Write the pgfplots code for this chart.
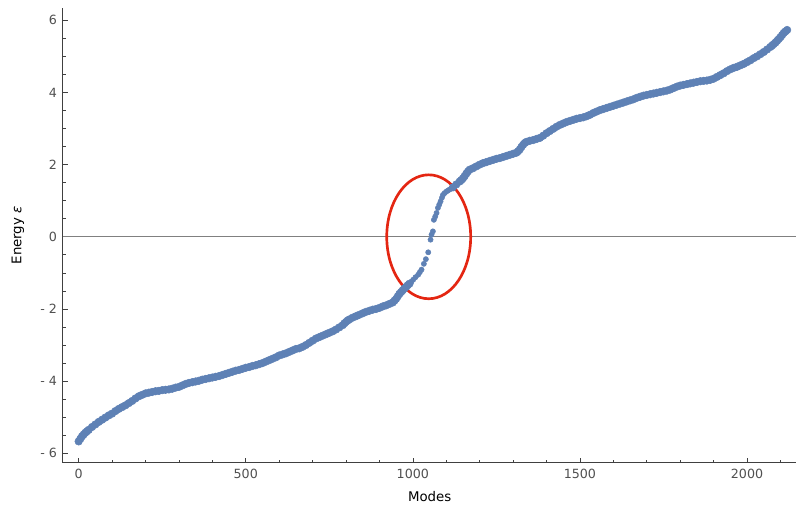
\documentclass[border=0pt]{standalone}
\usepackage{pgfplots}
\pgfplotsset{compat=1.18}
\usepackage{fontspec}
\setmainfont{DejaVu Sans}
\definecolor{mblue}{HTML}{5E81B5}
\definecolor{mred}{RGB}{228,38,18}
\definecolor{labgray}{HTML}{505050}
\definecolor{axgray}{HTML}{404040}
\begin{document}
\begin{tikzpicture}
\begin{axis}[
  scale only axis,
  width=550.5pt, height=341.25pt,
  xmin=-47, xmax=2148, ymin=-6.26, ymax=6.34,
  axis lines*=left,
  axis line style={axgray, line width=0.8pt, -},
  tick align=inside,
  major tick length=3.75pt, minor tick length=2.2pt,
  tick style={axgray, line width=0.5pt},
  xtick={0,500,1000,1500,2000},
  xticklabels={0,500,1000,1500,2000},
  minor xtick={100,200,300,400,600,700,800,900,1100,1200,1300,1400,1600,1700,1800,1900,2100},
  ytick={-6,-4,-2,0,2,4,6},
  yticklabels={- 6,- 4,- 2,0,2,4,6},
  minor ytick={-5.5,-5,-4.5,-3.5,-3,-2.5,-1.5,-1,-0.5,0.5,1,1.5,2.5,3,3.5,4.5,5,5.5},
  ticklabel style={font=\fontsize{9.5}{11}\selectfont, text=labgray},
  xticklabel style={yshift=-1pt},
  yticklabel style={xshift=-1pt},
  xlabel={Modes},
  ylabel={Energy {\itshape ε}},
  label style={font=\fontsize{9.5}{11}\selectfont, text=axgray},
  every axis x label/.style={at={(axis description cs:0.5,-0.0747)}, anchor=center},
  every axis y label/.style={at={(axis description cs:-0.0613,0.5)}, rotate=90, anchor=center},
  clip=false,
]
\draw[gray, line width=0.6pt] ({rel axis cs:0,0}|-{axis cs:0,0}) -- ({rel axis cs:1,0}|-{axis cs:0,0});
% dense part of the spectrum
\addplot[only marks, mark=*, mark size=2.85pt, mblue, mark options={draw=mblue, fill=mblue}] coordinates {
(0,-5.67) (5,-5.60) (10,-5.53) (15,-5.48) (20,-5.43) (25,-5.39) (30,-5.35) (40,-5.27) (50,-5.20) (60,-5.13) (70,-5.07) (80,-5.01) (90,-4.95)
(100,-4.90) (110,-4.83) (120,-4.77) (130,-4.72) (140,-4.67) (150,-4.61) (160,-4.55) (170,-4.48) (180,-4.42) (190,-4.38)
(200,-4.34) (210,-4.32) (220,-4.30) (230,-4.28) (240,-4.27) (250,-4.25) (260,-4.24) (270,-4.23) (280,-4.21) (290,-4.18)
(300,-4.16) (310,-4.12) (320,-4.08) (330,-4.05) (340,-4.03) (350,-4.01) (360,-3.99) (370,-3.96) (380,-3.94) (390,-3.92)
(400,-3.90) (410,-3.88) (420,-3.86) (430,-3.83) (440,-3.80) (450,-3.77) (460,-3.74) (470,-3.71) (480,-3.69) (490,-3.66)
(500,-3.63) (510,-3.61) (520,-3.58) (530,-3.56) (540,-3.53) (550,-3.50) (560,-3.46) (570,-3.42) (580,-3.38) (590,-3.34)
(600,-3.29) (610,-3.26) (620,-3.23) (630,-3.19) (640,-3.15) (650,-3.11) (660,-3.09) (670,-3.05) (680,-3.00) (690,-2.94)
(700,-2.88) (710,-2.82) (720,-2.78) (730,-2.74) (740,-2.70) (750,-2.66) (760,-2.62) (770,-2.57) (780,-2.51) (790,-2.45)
(795,-2.40) (800,-2.36) (805,-2.32) (810,-2.29) (820,-2.24) (830,-2.20) (840,-2.16) (850,-2.12) (860,-2.08) (870,-2.05) (880,-2.02) (890,-2.00)
(900,-1.97) (910,-1.93) (920,-1.90) (930,-1.86) (940,-1.82) (945,-1.77) (950,-1.72) (955,-1.65) (960,-1.58) (965,-1.53) (970,-1.48) (975,-1.43) (980,-1.39) (985,-1.34) (990,-1.30)
(1120,1.37) (1130,1.45) (1140,1.53) (1145,1.57) (1150,1.62) (1155,1.68) (1160,1.75) (1165,1.81) (1170,1.86) (1180,1.90)
(1190,1.95) (1200,2.00) (1210,2.04) (1220,2.07) (1230,2.10) (1240,2.13) (1250,2.16) (1260,2.18) (1270,2.21) (1280,2.24)
(1290,2.27) (1300,2.30) (1310,2.33) (1315,2.37) (1320,2.42) (1325,2.49) (1330,2.55) (1335,2.60) (1340,2.63) (1350,2.66) (1360,2.68) (1370,2.71) (1380,2.74)
(1390,2.80) (1400,2.87) (1410,2.93) (1420,2.99) (1430,3.05) (1440,3.10) (1450,3.14) (1460,3.18) (1470,3.21) (1480,3.24)
(1490,3.27) (1500,3.29) (1510,3.31) (1520,3.34) (1530,3.38) (1540,3.43) (1550,3.47) (1560,3.51) (1570,3.54) (1580,3.57)
(1590,3.60) (1600,3.63) (1610,3.66) (1620,3.69) (1630,3.72) (1640,3.75) (1650,3.78) (1660,3.81) (1670,3.85) (1680,3.88)
(1690,3.91) (1700,3.93) (1710,3.95) (1720,3.97) (1730,3.99) (1740,4.01) (1750,4.03) (1760,4.05) (1770,4.08) (1780,4.12)
(1790,4.16) (1800,4.19) (1810,4.21) (1820,4.23) (1830,4.25) (1840,4.27) (1850,4.29) (1860,4.31) (1870,4.32) (1880,4.33)
(1890,4.35) (1900,4.38) (1910,4.43) (1920,4.48) (1930,4.53) (1940,4.59) (1950,4.64) (1960,4.68) (1970,4.71) (1980,4.75)
(1990,4.79) (2000,4.84) (2010,4.89) (2020,4.95) (2030,5.00) (2040,5.06) (2050,5.12) (2060,5.19) (2070,5.26) (2075,5.30) (2080,5.34)
(2085,5.38) (2090,5.43) (2095,5.48) (2100,5.53) (2105,5.59) (2110,5.65) (2115,5.69) (2120,5.73)
};
% sparse points crossing the gap
\addplot[only marks, mark=*, mark size=1.95pt, mblue, mark options={draw=mblue, fill=mblue}] coordinates {
(995,-1.25) (1001,-1.19) (1008,-1.12) (1016,-1.05) (1021,-0.98) (1026,-0.91) (1033,-0.75) (1039,-0.62) (1046,-0.43) (1053,-0.08)
(1056,0.06) (1060,0.15) (1063,0.47) (1067,0.56) (1071,0.66) (1075,0.80) (1079,0.89) (1083,0.98) (1087,1.08) (1090,1.16)
(1095,1.21) (1100,1.25) (1105,1.28) (1110,1.31) (1115,1.34)
};
\draw[mred, line width=2pt] (axis cs:1047.5,0) ellipse [x radius=31.5pt, y radius=46.5pt];
\path[use as bounding box] ([xshift=-47.25pt,yshift=-33.75pt]rel axis cs:0,0) rectangle ([yshift=6pt]rel axis cs:1,1);
\end{axis}
\end{tikzpicture}
\end{document}
